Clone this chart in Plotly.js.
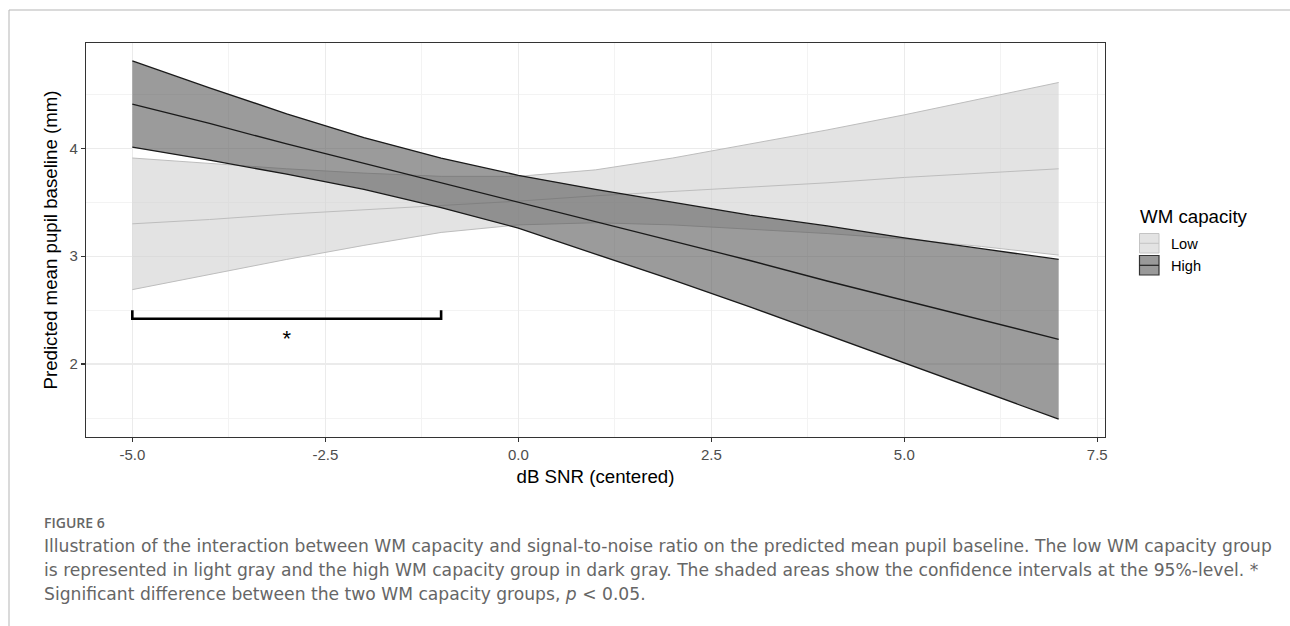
<!DOCTYPE html>
<html><head><meta charset="utf-8">
<script src="https://cdn.plot.ly/plotly-3.0.1.min.js"></script>
<style>
html,body{margin:0;padding:0;background:#fff;}
#chart{width:1290px;height:626px;}
</style>
</head><body><div id="chart"></div>
<script>
// x values (dB SNR, centered)
const snr = [-5,-4,-3,-2,-1,0,1,2,3,4,5,6,7];
// Low WM capacity group
const lowMean  = [3.30,3.34,3.39,3.43,3.47,3.51,3.56,3.60,3.64,3.68,3.73,3.77,3.81];
const lowUpper = [3.91,3.86,3.81,3.77,3.74,3.74,3.80,3.91,4.04,4.17,4.31,4.46,4.61];
const lowLower = [2.69,2.83,2.97,3.10,3.22,3.29,3.31,3.29,3.25,3.21,3.16,3.09,3.01];
// High WM capacity group
const highMean  = [4.41,4.23,4.04,3.86,3.68,3.50,3.32,3.14,2.96,2.77,2.59,2.41,2.23];
const highUpper = [4.81,4.56,4.32,4.10,3.91,3.75,3.62,3.50,3.38,3.28,3.17,3.07,2.97];
const highLower = [4.01,3.89,3.76,3.62,3.45,3.26,3.02,2.78,2.53,2.27,2.01,1.75,1.49];
// significance bracket
const bracketX = [-5,-5,-1,-1];
const bracketY = [2.50,2.42,2.42,2.50];
const starX = [-3];
const starY = [2.22];
// tick labels
const xTickVals = [-5,-2.5,0,2.5,5,7.5];
const xTickText = ['-5.0','-2.5','0.0','2.5','5.0','7.5'];
const yTickVals = [2,3,4];
const yTickText = ['2','3','4'];
const legendTitle = 'WM capacity';
const groupNames = ['Low','High'];

const lowLine = '#bdbdbd', highLine = '#1a1a1a';
const lowFill = 'rgba(208,208,208,0.6)', highFill = 'rgba(88,88,88,0.6)';

const traces = [
  {x: snr, y: lowLower, mode:'lines', line:{color:lowLine,width:1}, showlegend:false, hoverinfo:'skip'},
  {x: snr, y: lowUpper, mode:'lines', line:{color:lowLine,width:1}, fill:'tonexty', fillcolor:lowFill, name:groupNames[0], showlegend:false},
  {x: snr, y: lowMean, mode:'lines', line:{color:lowLine,width:1}, showlegend:false},
  {x: snr, y: highLower, mode:'lines', line:{color:highLine,width:1.3}, showlegend:false, hoverinfo:'skip'},
  {x: snr, y: highUpper, mode:'lines', line:{color:highLine,width:1.3}, fill:'tonexty', fillcolor:highFill, name:groupNames[1], showlegend:false},
  {x: snr, y: highMean, mode:'lines', line:{color:highLine,width:1.3}, showlegend:false},
  {x: bracketX, y: bracketY, mode:'lines', line:{color:'#000',width:2.6}, showlegend:false, hoverinfo:'skip'},
  {x: starX, y: starY, mode:'text', text:['*'], textfont:{family:'Liberation Sans, Arial', size:22, color:'#000'}, showlegend:false, hoverinfo:'skip'}
];

const ax = {
  showline:true, mirror:true, linecolor:'#333', linewidth:1.2,
  ticks:'outside', ticklen:4, tickcolor:'#333', tickwidth:1.2,
  gridcolor:'#ebebeb', gridwidth:1.3, zeroline:false,
  tickfont:{family:'Liberation Sans, Arial', size:15, color:'#4d4d4d'}
};

// pixel -> paper helpers for the frame, caption and legend
const L = 86, R = 1105, T = 43, B = 437;
const px = v => (v - L) / (R - L);
const py = v => (B - v) / (B - T);

const capFont = {family:'DejaVu Sans', size:17.15, color:'#666'};
const legFont = {family:'Liberation Sans, Arial', size:14.6, color:'#000'};

const layout = {
  width:1290, height:626,
  margin:{l:L, r:1290-R, t:T, b:626-B},
  paper_bgcolor:'#fff', plot_bgcolor:'#fff',
  font:{family:'Liberation Sans, Arial'},
  showlegend:false,
  xaxis: Object.assign({}, ax, {
    range:[-5.6,7.6], tickmode:'array', tickvals:xTickVals, ticktext:xTickText,
    minor:{dtick:1.25, tick0:-5, showgrid:true, gridcolor:'#f3f3f3', gridwidth:1, ticks:''},
    title:{text:'dB SNR (centered)', font:{size:18.7, color:'#000'}, standoff:7}
  }),
  yaxis: Object.assign({}, ax, {
    range:[1.324,4.976], tickmode:'array', tickvals:yTickVals, ticktext:yTickText,
    minor:{dtick:0.5, tick0:1.5, showgrid:true, gridcolor:'#f3f3f3', gridwidth:1, ticks:''},
    title:{text:'Predicted mean pupil baseline (mm)', font:{size:18.7, color:'#000'}, standoff:7}
  }),
  shapes:[
    {type:'line', xref:'paper', yref:'paper', x0:px(9), x1:px(1300), y0:py(10), y1:py(10), line:{color:'#b5b5b5', width:1}},
    {type:'line', xref:'paper', yref:'paper', x0:px(9), x1:px(9), y0:py(10), y1:py(630), line:{color:'#b5b5b5', width:1}},
    // legend keys
    {type:'rect', xref:'paper', yref:'paper', x0:px(1139.5), x1:px(1159), y0:py(233.5), y1:py(253), fillcolor:'#e3e3e3', line:{color:'#c4c4c4', width:1}},
    {type:'line', xref:'paper', yref:'paper', x0:px(1139.5), x1:px(1159), y0:py(243.3), y1:py(243.3), line:{color:'#c4c4c4', width:1}},
    {type:'rect', xref:'paper', yref:'paper', x0:px(1139.5), x1:px(1159), y0:py(255.5), y1:py(275), fillcolor:'#999999', line:{color:'#333', width:1.2}},
    {type:'line', xref:'paper', yref:'paper', x0:px(1139.5), x1:px(1159), y0:py(265.3), y1:py(265.3), line:{color:'#222', width:1.2}}
  ],
  annotations:[
    {xref:'paper', yref:'paper', x:px(1138), y:py(216), xanchor:'left', yanchor:'middle', showarrow:false,
     text:legendTitle, font:{family:'Liberation Sans, Arial', size:18.7, color:'#000'}},
    {xref:'paper', yref:'paper', x:px(42), y:py(522), xanchor:'left', yanchor:'middle', showarrow:false,
     text:'FIGURE 6', font:{family:'Open Sans', size:14, color:'#666', weight:600}},
    {xref:'paper', yref:'paper', x:px(42), y:py(546), xanchor:'left', yanchor:'middle', showarrow:false,
     text:'Illustration of the interaction between WM capacity and signal-to-noise ratio on the predicted mean pupil baseline. The low WM capacity group', font:capFont},
    {xref:'paper', yref:'paper', x:px(42), y:py(570), xanchor:'left', yanchor:'middle', showarrow:false,
     text:'is represented in light gray and the high WM capacity group in dark gray. The shaded areas show the confidence intervals at the 95%-level. *', font:capFont},
    {xref:'paper', yref:'paper', x:px(42), y:py(594), xanchor:'left', yanchor:'middle', showarrow:false,
     text:'Significant difference between the two WM capacity groups, <i>p</i> &lt; 0.05.', font:capFont},
    {xref:'paper', yref:'paper', x:px(1169), y:py(244), xanchor:'left', yanchor:'middle', showarrow:false,
     text:groupNames[0], font:legFont},
    {xref:'paper', yref:'paper', x:px(1169), y:py(266), xanchor:'left', yanchor:'middle', showarrow:false,
     text:groupNames[1], font:legFont}
  ]
};

Plotly.newPlot('chart', traces, layout, {displayModeBar:false, staticPlot:true});
</script>
</body></html>
